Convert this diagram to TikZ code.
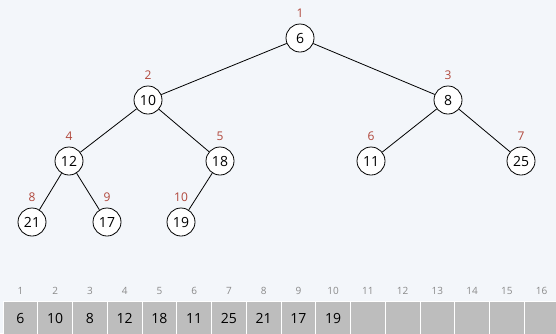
\documentclass[tikz,border=0pt]{standalone}
\usepackage{fontspec}
\setmainfont{Open Sans}
\definecolor{bgcol}{HTML}{F3F6FA}
\definecolor{idxred}{HTML}{B0463A}
\definecolor{cellgray}{HTML}{BDBDBD}
\definecolor{idxgray}{HTML}{8A8A8A}
\tikzset{
	heapnode/.style={circle,draw,fill=white,line width=0.8pt,minimum size=28pt,inner sep=0pt,font=\fontsize{14}{16}\selectfont},
	heapidx/.style={text=idxred,inner sep=0pt,font=\fontsize{12}{14}\selectfont},
	cell/.style={fill=cellgray,draw=white,line width=1pt},
	cellidx/.style={text=idxgray,font=\fontsize{10}{12}\selectfont},
	cellval/.style={font=\fontsize{14}{16}\selectfont}
}
\begin{document}
\begin{tikzpicture}[x=1pt,y=-1pt]
	\fill[bgcol] (0,0) rectangle (556,333);
	\useasboundingbox (0,0) rectangle (556,333);
	% the tree, level by level
	\node[heapnode,label={[heapidx,label distance=6pt]above:1}] (n1) at (300,38) {6};
	\node[heapnode,label={[heapidx,label distance=6pt]above:2}] (n2) at (148,100) {10};
	\node[heapnode,label={[heapidx,label distance=6pt]above:3}] (n3) at (448,100) {8};
	\node[heapnode,label={[heapidx,label distance=6pt]above:4}] (n4) at (69,161) {12};
	\node[heapnode,label={[heapidx,label distance=6pt]above:5}] (n5) at (220,161) {18};
	\node[heapnode,label={[heapidx,label distance=6pt]above:6}] (n6) at (371,161) {11};
	\node[heapnode,label={[heapidx,label distance=6pt]above:7}] (n7) at (521,161) {25};
	\node[heapnode,label={[heapidx,label distance=6pt]above:8}] (n8) at (32,222) {21};
	\node[heapnode,label={[heapidx,label distance=6pt]above:9}] (n9) at (107,222) {17};
	\node[heapnode,label={[heapidx,label distance=6pt]above:10}] (n10) at (181,222) {19};
	\draw[line width=0.8pt] (n1) -- (n2);
	\draw[line width=0.8pt] (n1) -- (n3);
	\draw[line width=0.8pt] (n2) -- (n4);
	\draw[line width=0.8pt] (n2) -- (n5);
	\draw[line width=0.8pt] (n3) -- (n6);
	\draw[line width=0.8pt] (n3) -- (n7);
	\draw[line width=0.8pt] (n4) -- (n8);
	\draw[line width=0.8pt] (n4) -- (n9);
	\draw[line width=0.8pt] (n5) -- (n10);
	% the array underneath
	\foreach \i in {1,...,16} {
		\draw[cell] ({3+34.75*(\i-1)},301) rectangle ({3+34.75*\i},345);
		\node[cellidx] (i\i) at ({3+34.75*(\i-0.5)},291) {\i};
	}
	\foreach \v [count=\i] in {6,10,8,12,18,11,25,21,17,19}
		\node[cellval] (a\i) at ({3+34.75*(\i-0.5)},318) {\v};
\end{tikzpicture}
\end{document}
